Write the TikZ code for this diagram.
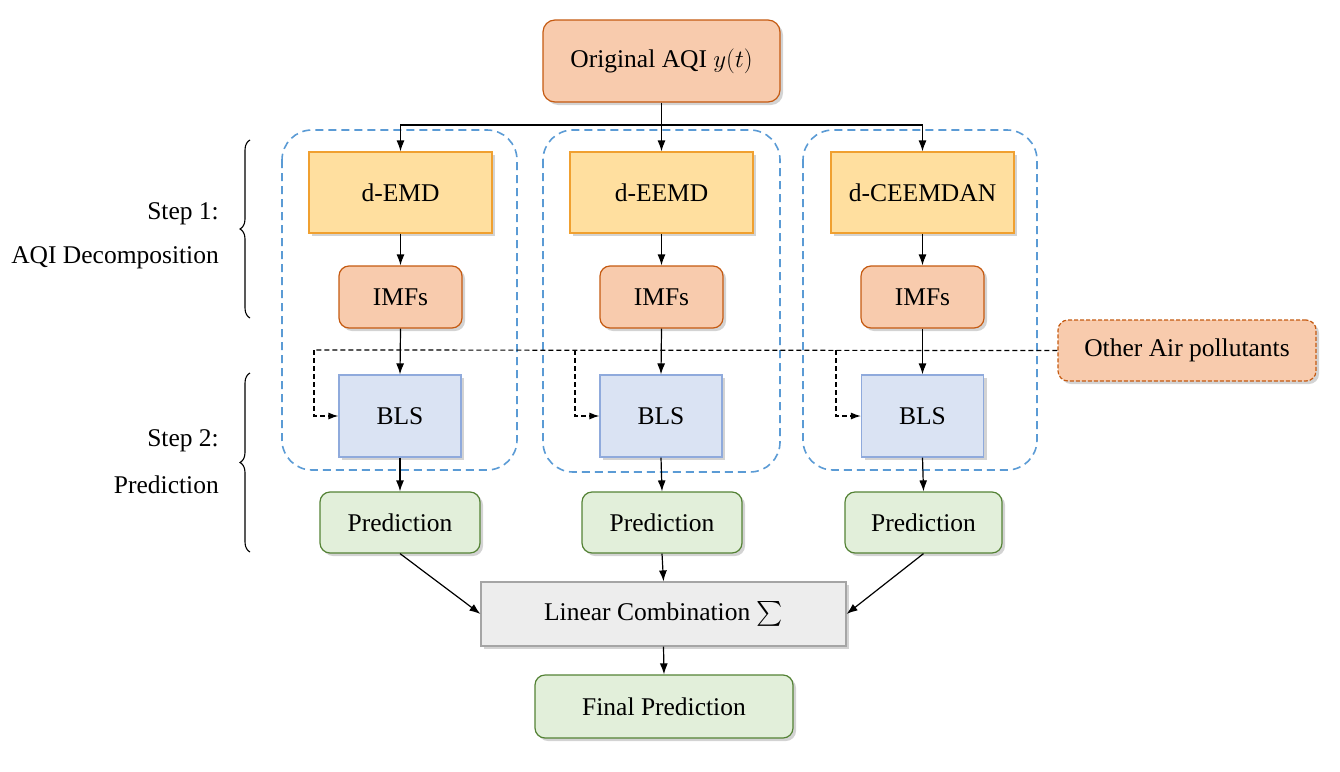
\documentclass[tikz,border=0pt]{standalone}
\usepackage{amsmath}
\usepackage{fontspec}
\setmainfont{Liberation Serif}
\usetikzlibrary{shadows,arrows.meta,decorations.pathreplacing,calc}
\definecolor{topfill}{HTML}{F8CBAD}
\definecolor{topdraw}{HTML}{C55A11}
\definecolor{decfill}{HTML}{FFDF9F}
\definecolor{decdraw}{HTML}{F0A030}
\definecolor{blsfill}{HTML}{DAE3F3}
\definecolor{blsdraw}{HTML}{8FAADC}
\definecolor{prefill}{HTML}{E2EFDA}
\definecolor{predraw}{HTML}{548235}
\definecolor{linfill}{HTML}{EDEDED}
\definecolor{lindraw}{HTML}{A5A5A5}
\definecolor{grpdraw}{HTML}{5B9BD5}
\begin{document}
\begin{tikzpicture}[x=1pt,y=-1pt,
  every node/.style={font=\fontsize{25.5}{30}\selectfont, inner sep=0pt},
  shad/.style={drop shadow={opacity=0.35, shadow xshift=3pt, shadow yshift=-3pt}},
  bx/.style={shad, draw, line width=1.2pt, minimum width=#1},
  topbox/.style={bx=237pt, minimum height=82pt, rounded corners=12pt, fill=topfill, draw=topdraw},
  decbox/.style={bx=183pt, minimum height=81pt, fill=decfill, draw=decdraw},
  imfbox/.style={bx=123pt, minimum height=62pt, rounded corners=10pt, fill=topfill, draw=topdraw},
  blsbox/.style={bx=122pt, minimum height=82pt, fill=blsfill, draw=blsdraw},
  prebox/.style={bx=#1, minimum height=61pt, rounded corners=10pt, fill=prefill, draw=predraw},
  linbox/.style={bx=365pt, minimum height=64pt, fill=linfill, draw=lindraw},
  grp/.style={draw=grpdraw, dashed, dash pattern=on 8pt off 5pt, line width=1.6pt, rounded corners=30pt},
  arr/.style={-{Latex[length=11pt,width=8pt]}, line width=1.2pt},
  darr/.style={-{Latex[length=10pt,width=7pt]}, line width=1.2pt, dash pattern=on 5pt off 3pt},
  brc/.style={decorate, decoration={brace, amplitude=10pt}, line width=1.1pt}
]
\useasboundingbox (0,0) rectangle (1340,771);

% groups
\draw[grp] (282,130) rectangle (517,470);
\draw[grp] (543,130) rectangle (780,472);
\draw[grp] (803,130) rectangle (1037,470);

\node[topbox] (top) at (661.5,61) {Original AQI $y(t)$};

\node[decbox] (d1) at (400.5,192.5) {d-EMD};
\node[decbox] (d2) at (661.5,192.5) {d-EEMD};
\node[decbox] (d3) at (922.5,192.5) {d-CEEMDAN};

\node[imfbox] (i1) at (400.5,297) {IMFs};
\node[imfbox] (i2) at (661.5,297) {IMFs};
\node[imfbox] (i3) at (922.5,297) {IMFs};

\node[blsbox] (b1) at (400,416) {BLS};
\node[blsbox] (b2) at (661,416) {BLS};
\node[blsbox] (b3) at (922.5,416) {BLS};

\node[prebox=160pt] (p1) at (400,522.5) {Prediction};
\node[prebox=160pt] (p2) at (662,522.5) {Prediction};
\node[prebox=157pt] (p3) at (923.5,522.5) {Prediction};

\node[linbox] (lin) at (663.5,614) {Linear Combination $\textstyle\sum$};
\node[prebox=258pt, minimum height=63pt] (fin) at (664,706.5) {Final Prediction};

\node[bx=258pt, minimum height=61pt, rounded corners=10pt, fill=topfill, draw=topdraw, dashed, dash pattern=on 4pt off 2pt] (oth) at (1187,350.5) {Other Air pollutants};

% top distribution
\coordinate (j) at (661.5,125);
\draw[line width=1.2pt] (top.south) -- (j);
\draw[arr] (j) -| (d1.north);
\draw[arr] (j) -- (d2.north);
\draw[arr] (j) -| (d3.north);

\foreach \k in {1,2,3}{
  \draw[arr] (d\k.south) -- (i\k.north);
  \draw[arr] (i\k.south) -- (b\k.north);
  \draw[arr] (b\k.south) -- (p\k.north);
}

% dashed pollutant line
\coordinate (dl) at (314,350);
\draw[line width=1.2pt, dash pattern=on 5pt off 3pt] (oth.west) -- (dl);
\draw[darr] (dl) |- (b1.west);
\draw[darr] (575,350) |- (b2.west);
\draw[darr] (836,350) |- (b3.west);

\draw[arr] (p1.south) -- (lin.west);
\draw[arr] (p2.south) -- (lin.north);
\draw[arr] (p3.south) -- (lin.east);
\draw[arr] (lin.south) -- (fin.north);

% braces
\draw[brc] (250,318) -- (250,140);
\draw[brc] (250,552) -- (250,373);

\node[anchor=east] (s1) at (219,214) {Step 1:};
\node[anchor=east] (s1b) at (219,258) {AQI Decomposition};
\node[anchor=east] (s2) at (219,441) {Step 2:};
\node[anchor=east] (s2b) at (219,485) {Prediction};
\end{tikzpicture}
\end{document}
